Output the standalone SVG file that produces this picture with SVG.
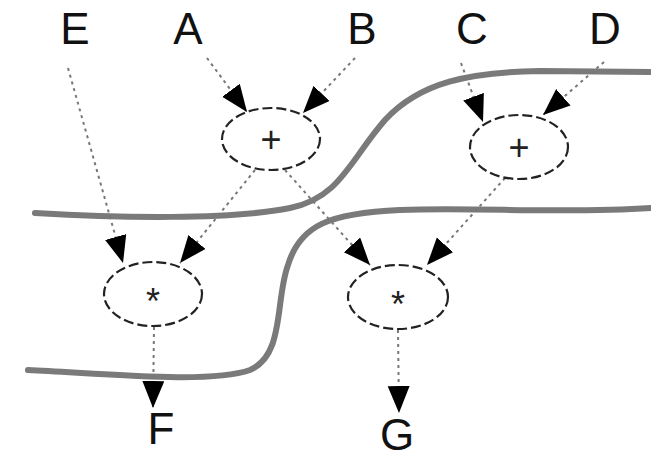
<svg xmlns="http://www.w3.org/2000/svg" width="651" height="468" viewBox="0 0 651 468">
<style>
.lbl{font-family:"Liberation Sans",Arial,sans-serif;font-size:44px;fill:#111;text-anchor:middle}
.op{font-family:"Liberation Sans",Arial,sans-serif;font-size:36px;fill:#222;text-anchor:middle}
.node{fill:#fff;stroke:#222;stroke-width:2.2;stroke-dasharray:10,4}
.edge{fill:none;stroke:#777;stroke-width:2;stroke-dasharray:3,4;marker-end:url(#ah)}
.bound{fill:none;stroke:#7a7a7a;stroke-width:6;stroke-linecap:round}
</style>
<defs>
<marker id="ah" markerUnits="userSpaceOnUse" markerWidth="28" markerHeight="24" refX="27" refY="11" orient="auto">
<path d="M0,0 L27,11 L0,22 z" fill="#000"/>
</marker>
</defs>
<g id="boundaries">
<path class="bound" d="M35,213 C120,218 230,220 290,208 C340,198 350,160 385,120 C420,82 470,72 540,71 L651,72"/>
<path class="bound" d="M28,370 C110,374 210,384 250,370 C285,355 275,300 288,265 C300,225 330,213 400,210 C480,207 560,214 651,208"/>
</g>
<g id="connectors">
<line class="edge" x1="68" y1="68" x2="123" y2="263"/>
<line class="edge" x1="207" y1="58" x2="247" y2="112"/>
<line class="edge" x1="355" y1="58" x2="303" y2="113"/>
<line class="edge" x1="461" y1="63" x2="483" y2="122"/>
<line class="edge" x1="604" y1="62" x2="543" y2="115"/>
<line class="edge" x1="255" y1="170" x2="180" y2="263"/>
<line class="edge" x1="285" y1="170" x2="370" y2="265"/>
<line class="edge" x1="505" y1="178" x2="427" y2="265"/>
<line class="edge" x1="154" y1="327" x2="153" y2="408"/>
<line class="edge" x1="398" y1="330" x2="399" y2="413"/>
</g>
<g id="node-plus1"><ellipse class="node" cx="271" cy="139" rx="49" ry="31"/><text class="op" x="271" y="152">+</text></g>
<g id="node-plus2"><ellipse class="node" cx="519" cy="147" rx="49" ry="32"/><text class="op" x="519" y="160">+</text></g>
<g id="node-star1"><ellipse class="node" cx="153" cy="294" rx="49" ry="32"/><text class="op" x="153" y="314">*</text></g>
<g id="node-star2"><ellipse class="node" cx="398" cy="297" rx="50" ry="32"/><text class="op" x="398" y="317">*</text></g>
<g id="labels">
<text class="lbl" x="75" y="44">E</text>
<text class="lbl" x="188" y="44">A</text>
<text class="lbl" x="362" y="44">B</text>
<text class="lbl" x="472" y="44">C</text>
<text class="lbl" x="605" y="44">D</text>
<text class="lbl" x="161" y="444">F</text>
<text class="lbl" x="397" y="450">G</text>
</g>
</svg>
